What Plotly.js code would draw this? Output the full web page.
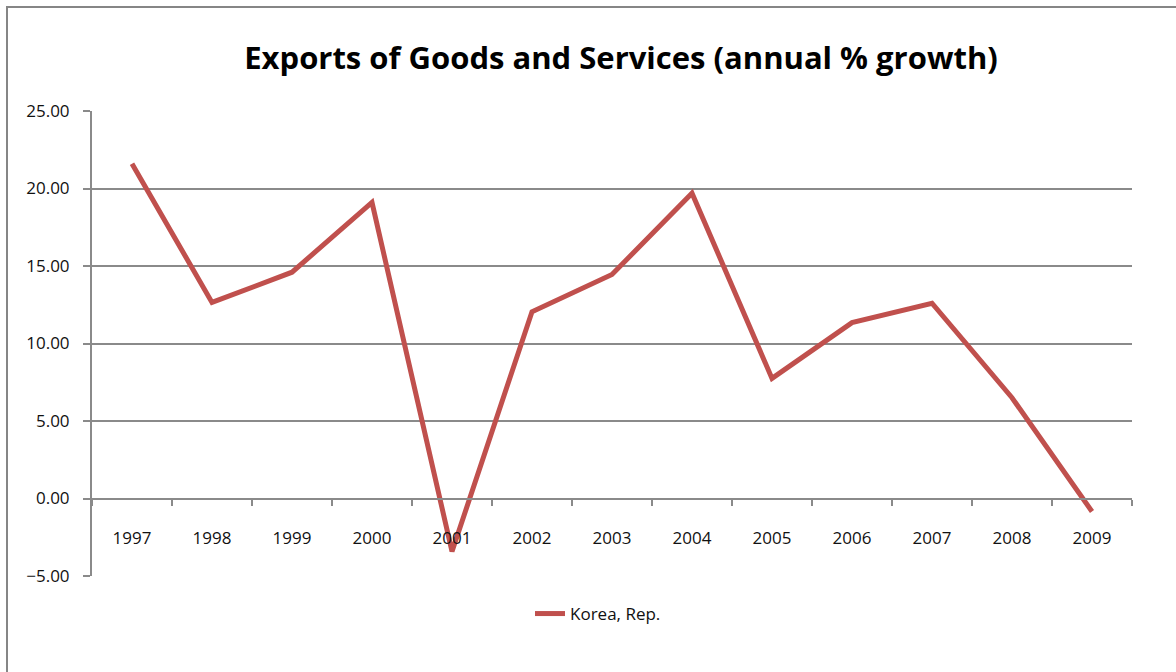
<!DOCTYPE html>
<html>
<head>
<meta charset="utf-8">
<script src="https://cdn.plot.ly/plotly-3.0.1.min.js"></script>
<style>
html,body{margin:0;padding:0;background:#fff;}
#chart{width:1176px;height:672px;position:absolute;left:0;top:0;}
#frame{position:absolute;left:6px;top:6px;width:1200px;height:700px;border-left:2px solid #868686;border-top:2px solid #868686;pointer-events:none;}
</style>
</head>
<body>
<div id="chart"></div>
<div id="frame"></div>
<script>
const years = ['1997','1998','1999','2000','2001','2002','2003','2004','2005','2006','2007','2008','2009'];
const korea = [21.6, 12.65, 14.6, 19.1, -3.42, 12.05, 14.45, 19.7, 7.75, 11.35, 12.6, 6.5, -0.84];
const seriesName = 'Korea, Rep.';
const yTicks = [-5, 0, 5, 10, 15, 20, 25];

const W = 1176, H = 672;
const L = 92, R = 1132, T = 111, B = 576;
const yMin = -5, yMax = 25;
const zeroPos = (0 - yMin) / (yMax - yMin);

const font = {family: 'Open Sans, Noto Sans, sans-serif', size: 17, color: '#111'};
const axisGray = '#8a8a8a';

Plotly.newPlot('chart', [{
  x: years,
  y: korea,
  type: 'scatter',
  mode: 'lines',
  name: seriesName,
  line: {color: '#C0504D', width: 5}
}], {
  width: W, height: H,
  margin: {l: L, r: W - R, t: T, b: H - B, pad: 0},
  paper_bgcolor: '#fff',
  plot_bgcolor: '#fff',
  font: font,
  showlegend: true,
  title: {
    text: '<b>Exports of Goods and Services (annual % growth)</b>',
    font: {family: 'Open Sans, Noto Sans, sans-serif', size: 31, color: '#000'},
    xref: 'container', x: 621 / W, xanchor: 'center',
    yref: 'container', y: 1 - 58 / H, yanchor: 'middle'
  },
  xaxis: {
    type: 'category',
    anchor: 'free',
    position: zeroPos,
    showline: true,
    linecolor: axisGray,
    linewidth: 2,
    showgrid: false,
    zeroline: false,
    ticks: 'outside',
    tickson: 'boundaries',
    ticklen: 6,
    tickwidth: 2,
    tickcolor: axisGray,
    ticklabelstandoff: 24,
    tickfont: font,
    range: [-0.5, years.length - 0.5],
    fixedrange: true
  },
  yaxis: {
    range: [yMin, yMax],
    tickvals: yTicks,
    tickformat: '.2f',
    showline: true,
    linecolor: axisGray,
    linewidth: 2,
    showgrid: true,
    gridcolor: axisGray,
    gridwidth: 2,
    zeroline: false,
    ticks: 'outside',
    ticklen: 7,
    tickwidth: 2,
    tickcolor: axisGray,
    ticklabelstandoff: 10,
    tickfont: font,
    fixedrange: true
  },
  legend: {
    orientation: 'h',
    x: (598 - L) / (R - L), xanchor: 'center',
    y: (B - 614) / (B - T), yanchor: 'middle',
    font: font,
    bgcolor: 'rgba(0,0,0,0)'
  }
}, {staticPlot: true});
</script>
</body>
</html>
